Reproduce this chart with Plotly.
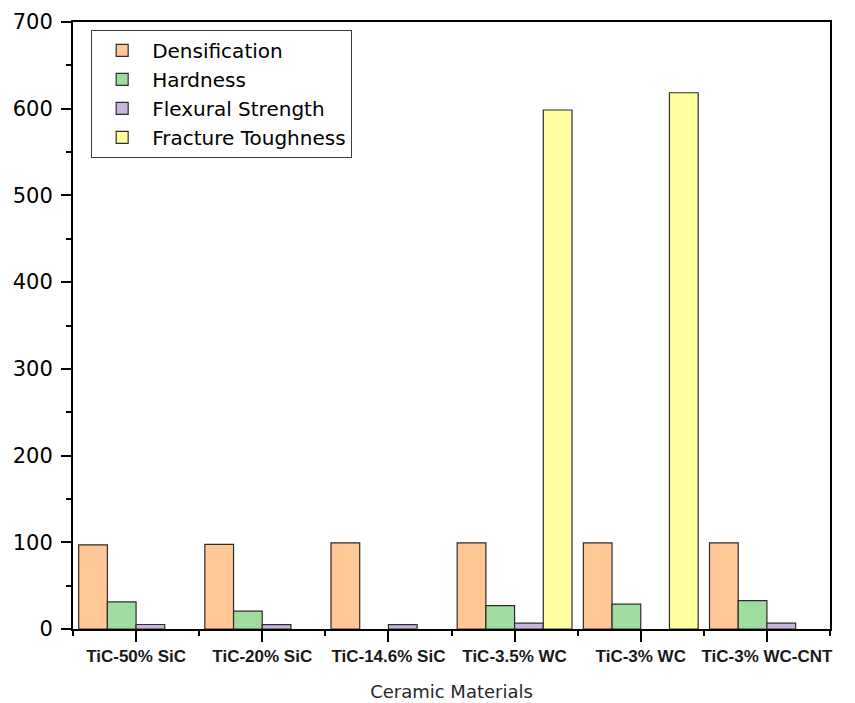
import plotly.graph_objects as go

# Ceramic composites and measured properties
materials = ["TiC-50% SiC", "TiC-20% SiC", "TiC-14.6% SiC", "TiC-3.5% WC", "TiC-3% WC", "TiC-3% WC-CNT"]
densification = [97.0, 97.7, 99.4, 99.4, 99.4, 99.4]
hardness = [31.3, 20.5, None, 27.0, 28.6, 32.8]
flexural_strength = [5.2, 5.0, 5.0, 6.7, None, 6.7]
fracture_toughness = [None, None, None, 598.5, 618.4, None]

series = [
    ("Densification", densification, "rgb(255,200,150)"),
    ("Hardness", hardness, "rgb(160,220,160)"),
    ("Flexural Strength", flexural_strength, "rgb(198,182,220)"),
    ("Fracture Toughness", fracture_toughness, "rgb(255,255,160)"),
]

positions = list(range(len(materials)))
wide_font = "DejaVu Sans, Verdana, sans-serif"

fig = go.Figure()
for name, values, color in series:
    fig.add_trace(go.Bar(
        x=positions, y=values, name=name,
        marker=dict(color=color, line=dict(color="rgb(45,45,45)", width=1.2)),
    ))

fig.update_layout(
    width=855, height=703,
    margin=dict(l=73, r=25, t=22, b=73.5, autoexpand=False),
    paper_bgcolor="white", plot_bgcolor="white",
    barmode="group", bargap=0.09, bargroupgap=0,
    font=dict(family=wide_font, color="black"),
    legend=dict(
        x=0.024, y=0.987, xanchor="left", yanchor="top",
        bgcolor="white", bordercolor="rgb(60,60,60)", borderwidth=1,
        font=dict(family=wide_font, size=20, color="black"), itemwidth=50,
        tracegroupgap=0,
    ),
    showlegend=True,
)

fig.update_xaxes(
    range=[-0.5, 5.5],
    tickmode="array", tickvals=positions, ticktext=materials,
    tickfont=dict(family="Liberation Sans, Arial, sans-serif",
                  size=17, color="rgb(25,25,25)", weight="bold"),
    ticks="outside", ticklen=11, tickwidth=2, tickcolor="black",
    minor=dict(tick0=0.5, dtick=1, ticks="outside", ticklen=5, tickwidth=2, tickcolor="black"),
    showline=True, linecolor="black", linewidth=2, mirror=True,
    showgrid=False, zeroline=False,
    title=dict(text="Ceramic Materials", font=dict(family=wide_font, size=18, color="rgb(40,40,40)"), standoff=20),
)

fig.update_yaxes(
    range=[0, 700], dtick=100, tick0=0,
    tickfont=dict(family=wide_font, size=21, color="black"),
    ticks="outside", ticklen=10, tickwidth=2, tickcolor="black",
    ticklabelstandoff=4,
    minor=dict(dtick=50, ticks="outside", ticklen=5, tickwidth=2, tickcolor="black"),
    showline=True, linecolor="black", linewidth=2, mirror=True,
    showgrid=False, zeroline=False,
)

fig.write_html("out.html")
